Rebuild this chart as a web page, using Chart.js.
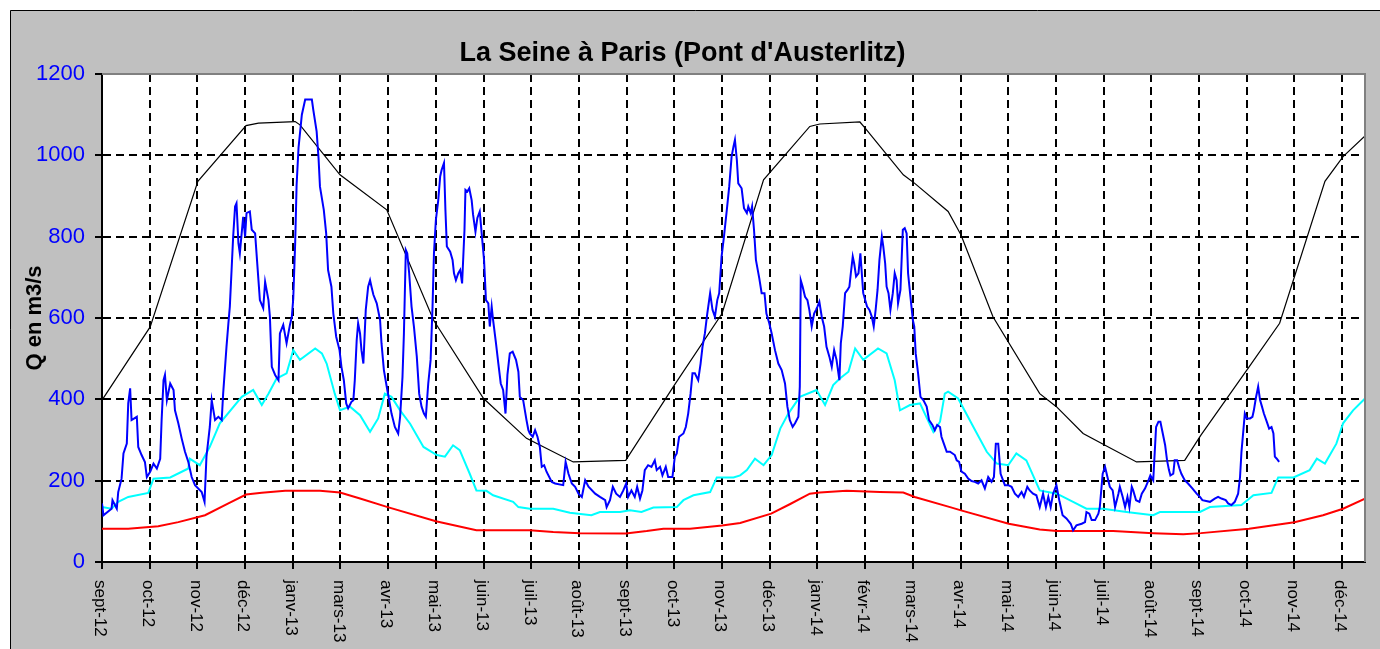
<!DOCTYPE html>
<html>
<head>
<meta charset="utf-8">
<script src="https://cdn.jsdelivr.net/npm/chart.js@4/dist/chart.umd.min.js"></script>
<style>
   html, body { margin: 0; padding: 0; background: #ffffff; }
   canvas { display: block; }
</style>
</head>
<body>
<canvas id="chart" width="1380" height="649"></canvas>
<script>
// x values are in months from sept-12 (one tick per month label)
const monthLabels = ['sept-12', 'oct-12', 'nov-12', 'déc-12', 'janv-13', 'mars-13', 'avr-13', 'mai-13', 'juin-13',
   'juil-13', 'août-13', 'sept-13', 'oct-13', 'nov-13', 'déc-13', 'janv-14', 'févr-14', 'mars-14', 'avr-14',
   'mai-14', 'juin-14', 'juil-14', 'août-14', 'sept-14', 'oct-14', 'nov-14', 'déc-14'];
const axisEnd = 26.48;
const yTicks = [0, 200, 400, 600, 800, 1000, 1200];

// observed discharge (blue)
const obsT = [0.00, 0.03, 0.20, 0.22, 0.31, 0.34, 0.41, 0.45, 0.52, 0.55, 0.59, 0.62, 0.73, 0.76, 0.83, 0.90, 0.94,
   1.01, 1.08, 1.15, 1.22, 1.25, 1.29, 1.32, 1.36, 1.43, 1.50, 1.53, 1.60, 1.67, 1.74, 1.81, 1.88, 1.95, 2.09, 2.15,
   2.19, 2.26, 2.30, 2.37, 2.44, 2.51, 2.54, 2.61, 2.65, 2.68, 2.72, 2.75, 2.79, 2.82, 2.86, 2.89, 2.96, 3.00, 3.03,
   3.10, 3.14, 3.21, 3.28, 3.31, 3.38, 3.42, 3.49, 3.52, 3.56, 3.63, 3.70, 3.73, 3.80, 3.87, 3.94, 3.98, 4.01, 4.05,
   4.08, 4.12, 4.19, 4.26, 4.40, 4.43, 4.50, 4.54, 4.57, 4.65, 4.70, 4.74, 4.81, 4.85, 4.91, 4.98, 5.02, 5.07, 5.12,
   5.16, 5.23, 5.27, 5.30, 5.34, 5.37, 5.41, 5.44, 5.48, 5.53, 5.58, 5.62, 5.65, 5.69, 5.76, 5.83, 5.86, 5.91, 5.97,
   6.02, 6.07, 6.14, 6.21, 6.25, 6.30, 6.33, 6.37, 6.40, 6.44, 6.49, 6.54, 6.60, 6.65, 6.70, 6.75, 6.79, 6.84, 6.89,
   6.93, 6.96, 7.00, 7.05, 7.09, 7.12, 7.17, 7.20, 7.23, 7.30, 7.35, 7.38, 7.42, 7.47, 7.51, 7.55, 7.60, 7.62, 7.66,
   7.70, 7.75, 7.78, 7.83, 7.87, 7.92, 7.96, 8.01, 8.05, 8.10, 8.13, 8.17, 8.20, 8.26, 8.31, 8.36, 8.41, 8.46, 8.50,
   8.55, 8.61, 8.68, 8.73, 8.76, 8.83, 8.90, 8.94, 8.97, 9.03, 9.08, 9.13, 9.18, 9.22, 9.27, 9.32, 9.43, 9.50, 9.67,
   9.72, 9.78, 9.85, 9.92, 9.99, 10.06, 10.13, 10.20, 10.34, 10.44, 10.55, 10.58, 10.65, 10.71, 10.78, 10.86, 10.93,
   10.99, 11.03, 11.10, 11.17, 11.22, 11.28, 11.33, 11.38, 11.45, 11.52, 11.59, 11.63, 11.70, 11.75, 11.82, 11.87,
   11.96, 12.01, 12.05, 12.10, 12.19, 12.24, 12.29, 12.34, 12.38, 12.43, 12.50, 12.55, 12.59, 12.64, 12.69, 12.75,
   12.80, 12.85, 12.90, 12.94, 12.99, 13.04, 13.10, 13.15, 13.20, 13.24, 13.27, 13.31, 13.34, 13.41, 13.46, 13.52,
   13.55, 13.60, 13.63, 13.67, 13.71, 13.78, 13.83, 13.89, 13.93, 13.99, 14.04, 14.11, 14.18, 14.25, 14.32, 14.37,
   14.42, 14.48, 14.53, 14.60, 14.63, 14.65, 14.69, 14.74, 14.79, 14.83, 14.88, 14.93, 14.97, 15.00, 15.04, 15.09,
   15.14, 15.19, 15.25, 15.30, 15.35, 15.40, 15.46, 15.49, 15.53, 15.58, 15.63, 15.67, 15.70, 15.74, 15.77, 15.81,
   15.86, 15.90, 15.96, 16.04, 16.09, 16.14, 16.18, 16.22, 16.26, 16.30, 16.35, 16.38, 16.42, 16.45, 16.49, 16.53,
   16.58, 16.62, 16.66, 16.69, 16.74, 16.79, 16.83, 16.87, 16.90, 16.95, 17.00, 17.03, 17.06, 17.11, 17.16, 17.22,
   17.29, 17.34, 17.41, 17.46, 17.51, 17.57, 17.60, 17.65, 17.71, 17.78, 17.88, 17.92, 17.97, 18.02, 18.09, 18.16,
   18.23, 18.30, 18.37, 18.44, 18.51, 18.58, 18.65, 18.70, 18.74, 18.79, 18.84, 18.93, 19.00, 19.07, 19.14, 19.21,
   19.28, 19.33, 19.40, 19.45, 19.52, 19.59, 19.66, 19.73, 19.79, 19.84, 19.89, 19.94, 20.01, 20.07, 20.14, 20.22,
   20.31, 20.36, 20.43, 20.54, 20.61, 20.64, 20.70, 20.75, 20.82, 20.89, 20.92, 20.98, 21.03, 21.08, 21.13, 21.19,
   21.24, 21.31, 21.34, 21.40, 21.45, 21.50, 21.54, 21.59, 21.62, 21.68, 21.75, 21.80, 21.87, 21.94, 21.98, 22.04,
   22.10, 22.15, 22.19, 22.24, 22.29, 22.33, 22.37, 22.40, 22.46, 22.49, 22.54, 22.59, 22.63, 22.70, 22.77, 22.86,
   22.95, 23.02, 23.07, 23.23, 23.33, 23.40, 23.47, 23.56, 23.61, 23.68, 23.75, 23.82, 23.86, 23.89, 23.93, 23.96,
   24.00, 24.07, 24.12, 24.15, 24.19, 24.24, 24.28, 24.32, 24.36, 24.42, 24.47, 24.52, 24.56, 24.59, 24.63, 24.68];
const obsQ = [144, 115, 131, 152, 131, 172, 205, 267, 291, 390, 427, 349, 357, 283, 263, 246, 209,
   222, 242, 230, 254, 349, 447, 460, 398, 439, 423, 373, 341, 304, 271, 246, 209, 189, 172, 148,
   259, 332, 398, 349, 357, 349, 414, 529, 587, 628, 726, 800, 874, 882, 784, 759, 849, 800, 858,
   862, 817, 808, 693, 644, 624, 689, 644, 603, 480, 460, 447, 562, 583, 538, 583, 603, 648, 784,
   927, 1018, 1100, 1137, 1137, 1112, 1059, 993, 923, 866, 808, 718, 677, 611, 554, 521, 480, 447, 390,
   378, 394, 398, 447, 546, 587, 562, 521, 488, 620, 677, 693, 677, 657, 636, 595, 538, 472, 431,
   398, 365, 332, 316, 357, 455, 562, 767, 759, 710, 628, 579, 505, 414, 382, 365, 357, 439, 497,
   628, 759, 841, 890, 948, 964, 981, 866, 776, 763, 743, 710, 693, 710, 718, 685, 817, 915, 911,
   919, 890, 854, 812, 846, 862, 808, 743, 644, 636, 579, 628, 595, 538, 488, 439, 423, 365, 460,
   513, 517, 497, 468, 406, 398, 349, 324, 316, 308, 324, 308, 283, 234, 238, 222, 197, 193, 189,
   246, 217, 193, 185, 168, 160, 201, 185, 168, 160, 152, 135, 152, 185, 168, 160, 176,
   193, 160, 176, 160, 185, 156, 176, 226, 238, 234, 250, 226, 234, 213, 234, 209,
   209, 259, 267, 308, 316, 332, 365, 414, 464, 464, 447, 488, 529, 562, 611, 661,
   620, 603, 644, 661, 751, 800, 866, 923, 997, 1022, 1038, 989, 931, 919, 870, 858,
   874, 858, 874, 817, 743, 698, 661, 661, 611, 587, 562, 521, 488, 472, 439, 382,
   349, 332, 341, 357, 431, 693, 677, 652, 644, 620, 579, 611, 620, 628, 640, 603,
   579, 529, 505, 480, 521, 497, 447, 538, 579, 661, 669, 677, 710, 751, 734, 702,
   710, 759, 661, 628, 620, 603, 579, 620, 669, 743, 800, 776, 734, 677, 661, 620,
   661, 710, 693, 636, 669, 817, 821, 808, 710, 652, 595, 579, 513, 464, 406, 398,
   382, 349, 337, 324, 337, 332, 308, 291, 271, 271, 263, 250, 246, 222, 217, 205,
   199, 197, 193, 201, 181, 209, 197, 209, 291, 291, 217, 189, 189, 185, 168, 160,
   172, 160, 185, 176, 168, 164, 135, 168, 135, 160, 135, 168, 189, 152, 115, 107,
   94, 78, 90, 94, 98, 123, 119, 103, 103, 119, 135, 217, 234, 209, 185, 176,
   135, 168, 185, 160, 135, 160, 135, 185, 176, 152, 148, 168, 181, 201, 213, 201,
   332, 345, 345, 316, 287, 250, 226, 213, 217, 250, 250, 230, 217, 201, 193, 181,
   168, 160, 152, 148, 156, 160, 156, 152, 144, 140, 148, 168, 209, 271, 324, 365,
   353, 353, 357, 373, 402, 431, 398, 382, 365, 345, 328, 332, 316, 259, 254, 246];

// black curve
const upperT = [0, 1.01, 2.01, 3.02, 3.28, 4.05, 4.15, 4.99, 5.97, 6.95, 8.0, 8.9, 9.88, 10.98, 12.0, 13.0, 13.87,
   14.84, 15.05, 15.89, 16.0, 16.8, 17.04, 17.74, 18.01, 18.68, 19.66, 20.01, 20.57, 21.03, 21.69, 22.7, 23.04,
   24.05, 24.69, 25.64, 26.02, 26.48];
const upperQ = [398, 578, 936, 1073, 1079, 1083, 1075, 952, 866, 595, 402, 304, 246, 250, 435, 611, 940,
   1071, 1077, 1082, 1067, 952, 931, 862, 804, 603, 414, 382, 316, 287, 246, 250, 312,
   480, 587, 936, 997, 1048];

// cyan curve
const meanT = [0.00, 0.20, 0.34, 0.55, 0.97, 1.08, 1.43, 1.81, 1.84, 2.05, 2.26, 2.47, 2.93, 3.17, 3.35, 3.49, 3.66,
   3.87, 4.01, 4.15, 4.47, 4.61, 4.71, 4.88, 4.99, 5.20, 5.41, 5.62, 5.79, 5.93, 6.07, 6.25, 6.46, 6.74, 7.02, 7.19,
   7.36, 7.50, 7.71, 7.85, 8.06, 8.20, 8.62, 8.73, 8.97, 9.46, 9.81, 10.26, 10.44, 10.86, 11.07, 11.31, 11.56, 12.05,
   12.19, 12.40, 12.75, 12.89, 13.24, 13.38, 13.52, 13.69, 13.87, 14.04, 14.22, 14.39, 14.63, 14.98, 15.16, 15.33,
   15.47, 15.65, 15.79, 15.96, 16.27, 16.45, 16.62, 16.73, 16.94, 17.15, 17.43, 17.57, 17.67, 17.74, 17.95, 18.27,
   18.55, 18.76, 19.00, 19.17, 19.38, 19.66, 20.02, 20.36, 20.64, 20.99, 21.48, 22.04, 22.18, 23.02, 23.23, 23.89,
   24.14, 24.52, 24.66, 24.98, 25.32, 25.47, 25.64, 25.88, 26.02, 26.23, 26.48];
const meanQ = [135, 131, 148, 160, 170, 205, 208, 230, 254, 238, 283, 341, 406, 423, 386, 414, 451,
   464, 521, 497, 525, 513, 488, 414, 373, 382, 361, 320, 353, 414, 406, 373, 340, 283, 263, 259,
   287, 275, 217, 176, 175, 164, 148, 135, 131, 131, 121, 115, 123, 123, 127, 123, 134, 135,
   152, 164, 172, 208, 208, 213, 226, 254, 238, 263, 328, 365, 406, 423, 386, 435,
   451, 468, 525, 497, 525, 513, 447, 373, 386, 390, 320, 345, 414, 419, 402, 332,
   271, 242, 238, 267, 250, 176, 168, 148, 131, 131, 123, 115, 123, 123, 135, 140,
   164, 170, 208, 208, 226, 254, 242, 291, 341, 373, 402];

// red curve
const lowerT = [0.00, 0.55, 1.18, 1.60, 2.16, 2.65, 3.02, 3.35, 3.84, 4.57, 4.99, 5.41, 5.99, 7.00, 7.85, 8.97, 9.46,
   10.02, 10.98, 11.42, 11.77, 12.33, 13.00, 13.38, 14.03, 14.42, 14.84, 15.05, 15.61, 16.31, 16.80, 17.04, 17.78,
   18.01, 19.01, 19.66, 20.02, 21.20, 22.04, 22.67, 23.04, 24.05, 25.00, 25.60, 26.02, 26.48];
const lowerQ = [82, 82, 88, 98, 115, 144, 166, 170, 175, 175, 171, 156, 135, 100, 78, 78, 74,
   71, 70, 76, 82, 82, 90, 96, 119, 142, 168, 171, 175, 172, 171, 160, 135,
   127, 94, 80, 76, 76, 71, 68, 71, 82, 98, 115, 131, 156];

const toPoints = (t, q) => t.map((x, i) => ({ x: x, y: q[i] }));

Chart.defaults.font.family = "'Liberation Sans', Arial, sans-serif";

const excelFrame = {
   id: 'excelFrame',
   beforeDraw(chart) {
      const { ctx, chartArea: a, width, height } = chart;
      ctx.save();
      ctx.fillStyle = '#ffffff';
      ctx.fillRect(0, 0, width, height);
      ctx.fillStyle = '#c0c0c0';
      ctx.fillRect(10, 10, width - 10, height - 10);
      ctx.strokeStyle = '#000000';
      ctx.lineWidth = 1;
      ctx.beginPath();
      ctx.moveTo(10.5, height);
      ctx.lineTo(10.5, 10.5);
      ctx.lineTo(width, 10.5);
      ctx.stroke();
      ctx.fillStyle = '#ffffff';
      ctx.fillRect(a.left, a.top, a.right - a.left, a.bottom - a.top);
      ctx.restore();
   },
   afterDraw(chart) {
      const { ctx, chartArea: a } = chart;
      const xScale = chart.scales.x;
      ctx.save();
      ctx.setLineDash([]);
      ctx.strokeStyle = '#808080';
      ctx.lineWidth = 2;
      ctx.beginPath();
      ctx.moveTo(a.left, a.top);
      ctx.lineTo(a.right, a.top);
      ctx.lineTo(a.right, a.bottom);
      ctx.stroke();

      ctx.fillStyle = '#000000';
      ctx.font = "17px 'Liberation Sans', Arial, sans-serif";
      ctx.textAlign = 'left';
      ctx.textBaseline = 'middle';
      monthLabels.forEach((label, i) => {
         const x = xScale.getPixelForValue(i) - 2;
         ctx.save();
         ctx.translate(x, a.bottom + 18);
         ctx.rotate(Math.PI / 2);
         ctx.fillText(label, 0, 0);
         ctx.restore();
      });
      ctx.restore();
   }
};

const gridStyle = {
   lineWidth: 2,
   drawTicks: true,
   tickLength: 7,
   tickColor: '#000000',
   tickWidth: 2,
   tickBorderDash: [],
};

new Chart(document.getElementById('chart'), {
   type: 'line',
   data: {
      datasets: [
         { label: 'obs', data: toPoints(obsT, obsQ), borderColor: '#0000ff', borderWidth: 2 },
         { label: 'upper', data: toPoints(upperT, upperQ), borderColor: '#000000', borderWidth: 1.2 },
         { label: 'mean', data: toPoints(meanT, meanQ), borderColor: '#00ffff', borderWidth: 2 },
         { label: 'lower', data: toPoints(lowerT, lowerQ), borderColor: '#ff0000', borderWidth: 2 },
      ],
   },
   options: {
      responsive: false,
      animation: false,
      devicePixelRatio: 1,
      events: [],
      elements: {
         point: { radius: 0 },
         line: { tension: 0, fill: false },
      },
      layout: { padding: { top: 10, left: 0, right: 15, bottom: 0 } },
      plugins: {
         legend: { display: false },
         tooltip: { enabled: false },
         title: {
            display: true,
            text: "La Seine à Paris (Pont d'Austerlitz)",
            color: '#000000',
            font: { size: 27, weight: 'bold', lineHeight: 1.2 },
            padding: { top: 27.8, bottom: 3.8 },
         },
      },
      scales: {
         x: {
            type: 'linear',
            min: 0,
            max: axisEnd,
            afterFit: (scale) => { scale.height = 87; },
            ticks: { display: false, stepSize: 1, includeBounds: false },
            grid: { ...gridStyle, color: (c) => (c.tick && c.tick.value === 0 ? 'rgba(0,0,0,0)' : '#000000') },
            border: { color: '#000000', width: 2, dash: [8, 5] },
         },
         y: {
            min: 0,
            max: 1200,
            afterFit: (scale) => { scale.width = 102; },
            afterBuildTicks: (scale) => { scale.ticks = yTicks.map((v) => ({ value: v })); },
            ticks: {
               color: '#0000ff',
               padding: 10,
               font: { size: 22 },
               callback: (v) => String(v),
            },
            grid: {
               ...gridStyle,
               color: (c) => (c.tick && (c.tick.value === 0 || c.tick.value === 1200) ? 'rgba(0,0,0,0)' : '#000000'),
            },
            border: { color: '#000000', width: 2, dash: [8, 5] },
            title: {
               display: true,
               text: 'Q en m3/s',
               color: '#000000',
               font: { size: 22, weight: 'bold', lineHeight: 1.2 },
               padding: { top: 21.8, bottom: 0 },
            },
         },
      },
   },
   plugins: [excelFrame],
});
</script>
</body>
</html>
